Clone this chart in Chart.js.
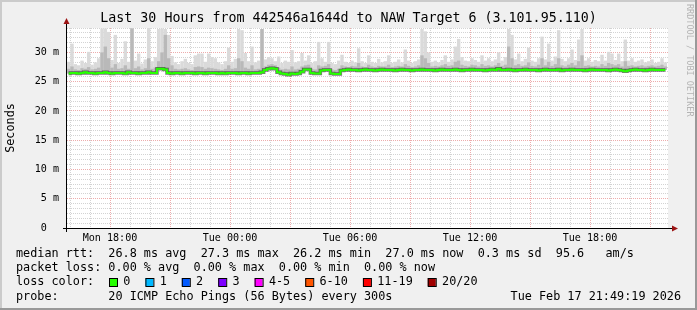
<!DOCTYPE html>
<html>
<head>
<meta charset="utf-8">
<script src="https://cdn.jsdelivr.net/npm/chart.js@4.4.1/dist/chart.umd.min.js"></script>
<style>
  html, body { margin: 0; padding: 0; background: #f0f0f0; }
</style>
</head>
<body>
<canvas id="smokeChart" width="697" height="310"></canvas>
<script>
/* ================= DATA ================= */
// time axis in hours counted from Mon 00:00
const T_START = 15.85;
const T_END = 45.9;
const STEP = 1 / 6;   // one sample = 10 min

// median rtt (ms)
const median = [
  26.4, 26.5, 26.5, 26.4, 26.5, 26.6, 26.5, 26.5, 26.4, 26.5,
  26.5, 26.6, 26.5, 26.4, 26.5, 26.5, 26.5, 26.4, 26.6, 26.5,
  26.5, 26.4, 26.5, 26.5, 26.6, 26.5, 26.5, 27.2, 27.2, 27.1,
  26.5, 26.4, 26.5, 26.5, 26.4, 26.5, 26.5, 26.5, 26.4, 26.5,
  26.5, 26.4, 26.5, 26.5, 26.5, 26.4, 26.5, 26.4, 26.5, 26.5,
  26.5, 26.4, 26.5, 26.5, 26.4, 26.5, 26.5, 26.5, 26.6, 27.0,
  27.2, 27.3, 27.2, 26.6, 26.4, 26.3, 26.2, 26.4, 26.3, 26.4,
  26.7, 27.1, 27.1, 26.5, 26.4, 26.4, 26.9, 27.0, 27.0, 26.4,
  26.3, 26.3, 26.9, 27.0, 27.1, 27.0, 27.0, 26.9, 27.0, 27.1,
  27.0, 27.0, 26.9, 27.0, 27.1, 27.0, 27.0, 27.0, 26.9, 27.0,
  27.1, 27.0, 27.0, 26.9, 27.0, 27.0, 27.1, 27.0, 27.0, 27.0,
  26.9, 27.0, 27.1, 27.0, 27.0, 27.0, 27.1, 27.0, 26.9, 27.0,
  27.0, 27.1, 27.0, 27.0, 27.0, 26.9, 27.0, 27.1, 27.0, 27.2,
  27.0, 27.0, 27.1, 27.0, 26.9, 27.0, 27.0, 27.1, 27.0, 27.0,
  27.0, 26.9, 27.0, 27.1, 27.0, 27.0, 27.0, 27.1, 26.9, 27.0,
  27.0, 27.1, 27.0, 27.0, 27.0, 26.9, 27.0, 27.1, 27.0, 27.0,
  27.0, 27.0, 26.9, 27.0, 27.1, 27.0, 26.9, 26.8, 26.9, 27.0,
  27.1, 27.0, 27.0, 26.9, 27.0, 27.1, 27.0, 27.0, 27.0, 27.0
];

// denser smoke (upper quartile of the pings, ms)
const pingUpper = [
  27.2, 27.6, 27.1, 27.0, 27.3, 27.2, 27.5, 27.1, 27.2, 27.4,
  30.0, 31.0, 29.0, 27.4, 28.0, 27.2, 27.3, 27.8, 27.2, 34.1,
  27.3, 27.6, 27.1, 27.3, 29.0, 27.2, 27.4, 28.5, 30.0, 33.0,
  29.0, 27.8, 27.2, 27.1, 27.2, 27.3, 27.1, 27.0, 27.5, 27.6,
  27.5, 27.2, 27.4, 27.3, 27.2, 27.1, 27.0, 27.2, 27.8, 27.2,
  27.3, 29.0, 28.5, 27.4, 27.2, 27.8, 27.1, 27.2, 34.0, 27.6,
  27.9, 28.0, 27.8, 27.4, 27.1, 27.2, 27.1, 27.6, 27.1, 27.2,
  27.6, 27.8, 27.9, 27.2, 27.1, 27.8, 27.6, 27.7, 28.0, 27.1,
  27.0, 27.2, 27.8, 27.6, 27.5, 27.7, 27.6, 28.2, 27.6, 27.5,
  27.9, 27.6, 27.5, 27.7, 27.6, 27.6, 27.9, 27.5, 27.6, 27.7,
  27.6, 28.0, 27.7, 27.5, 27.6, 27.8, 29.5, 29.0, 28.2, 27.6,
  27.7, 27.6, 27.8, 28.0, 27.7, 27.8, 28.4, 28.6, 27.9, 27.7,
  27.6, 27.9, 27.8, 27.6, 28.0, 27.7, 27.8, 27.6, 27.8, 28.2,
  27.7, 27.9, 31.0, 29.0, 27.8, 28.0, 27.7, 27.8, 28.3, 27.7,
  27.6, 27.9, 29.0, 27.8, 28.4, 27.7, 28.0, 29.0, 27.8, 27.6,
  27.9, 28.2, 27.8, 28.5, 29.5, 27.7, 27.8, 27.6, 27.7, 27.6,
  28.0, 27.7, 28.2, 28.0, 27.8, 28.0, 27.6, 28.5, 27.7, 27.8,
  27.6, 27.7, 27.8, 27.6, 27.7, 27.8, 27.6, 27.7, 27.9, 27.6
];

// slowest ping of each sample (ms)
const pingMax = [
  28.4, 31.5, 28.0, 27.8, 28.6, 28.2, 30.1, 27.9, 28.3, 29.0,
  34.1, 34.1, 33.5, 28.7, 33.0, 28.2, 28.9, 31.9, 28.4, 34.1,
  28.6, 29.8, 28.1, 28.8, 34.2, 28.5, 29.2, 34.0, 34.1, 34.0,
  33.0, 29.4, 28.3, 28.0, 28.5, 28.9, 28.2, 28.0, 29.5, 29.8,
  29.8, 28.4, 29.8, 29.2, 29.0, 28.3, 28.0, 28.5, 30.8, 28.4,
  28.9, 34.0, 33.8, 29.9, 28.5, 31.0, 28.3, 28.6, 34.0, 28.8,
  29.2, 29.0, 28.5, 29.3, 28.2, 28.6, 28.4, 30.4, 28.3, 28.5,
  29.9, 28.6, 29.5, 28.2, 28.5, 31.8, 29.0, 28.4, 31.8, 28.2,
  28.0, 28.6, 29.6, 28.4, 28.2, 28.6, 28.3, 30.7, 28.5, 28.2,
  29.5, 28.4, 28.2, 28.9, 28.3, 28.5, 29.5, 28.2, 28.4, 28.8,
  28.3, 30.5, 28.6, 28.2, 28.5, 28.8, 34.0, 33.6, 30.0, 28.4,
  28.6, 28.3, 28.7, 29.5, 28.4, 28.8, 31.0, 32.3, 29.2, 28.6,
  28.5, 29.0, 28.7, 28.4, 29.5, 28.6, 29.0, 28.5, 28.8, 30.0,
  28.6, 29.2, 34.0, 33.0, 28.8, 29.8, 28.5, 28.9, 30.8, 28.6,
  28.4, 29.0, 32.7, 28.8, 31.5, 28.6, 29.3, 33.8, 28.9, 28.5,
  29.0, 30.5, 28.7, 32.2, 34.0, 28.6, 29.0, 28.4, 28.7, 28.5,
  29.6, 28.6, 30.1, 29.8, 28.7, 29.8, 28.5, 32.2, 28.6, 29.0,
  28.4, 28.6, 28.8, 28.3, 28.5, 28.8, 28.2, 28.4, 29.0, 28.3
];

const Y_MAX = 34.17;
const yTickValues = [];
for (let k = 0; k <= 41; k++) yTickValues.push(k * 5 / 6);
const hourTicks = [];
for (let h = 16; h <= 45; h++) hourTicks.push(h);

const titleText = "Last 30 Hours from 442546a1644d to NAW Target 6 (3.101.95.110)";
const statLines = [
  "median rtt:  26.8 ms avg  27.3 ms max  26.2 ms min  27.0 ms now  0.3 ms sd  95.6   am/s",
  "packet loss: 0.00 % avg  0.00 % max  0.00 % min  0.00 % now"
];
const lossLabels = ["0", "1", "2", "3", "4-5", "6-10", "11-19", "20/20"];
const lossColors = ["#26ff00", "#00b8ff", "#0059ff", "#7e00ff", "#ff00ff", "#ff5500", "#ff0000", "#a10000"];
const probeText = "probe:       20 ICMP Echo Pings (56 Bytes) every 300s";
const stampText = "Tue Feb 17 21:49:19 2026";

/* ================= HELPERS ================= */
const MONO = '"DejaVu Sans Mono", monospace';
const GRID_GRAY = "rgba(140,140,140,0.38)";
const GRID_RED = "rgba(215,70,70,0.45)";

const times = median.map((_, i) => T_START + (i + 0.5) * STEP);

function points(values) {
  return values.map((v, i) => ({ x: times[i], y: v }));
}
function ranges(top) {
  return top.map((v, i) => ({ x: times[i], y: [median[i], v] }));
}
function isFive(v) {
  return Math.abs(v / 5 - Math.round(v / 5)) < 1e-6;
}
function hourLabel(v) {
  if (v % 6 !== 0) return "";
  const day = v < 24 ? "Mon" : "Tue";
  return day + " " + String(v % 24).padStart(2, "0") + ":00";
}

/* ================= FRAME PLUGIN ================= */
const rrdFrame = {
  id: "rrdFrame",
  beforeDraw(chart) {
    const { ctx, width, height, chartArea: a } = chart;
    ctx.save();
    ctx.fillStyle = "#f0f0f0";
    ctx.fillRect(0, 0, width, height);
    ctx.fillStyle = "#cbcbcb";
    ctx.fillRect(0, 0, width, 2);
    ctx.fillRect(0, 0, 2, height);
    ctx.fillStyle = "#999999";
    ctx.fillRect(0, height - 2, width, 2);
    ctx.fillRect(width - 2, 0, 2, height);
    ctx.fillStyle = "#ffffff";
    ctx.fillRect(a.left, a.top, a.right - a.left, a.bottom - a.top);
    ctx.restore();
  },
  afterDraw(chart) {
    const { ctx, width, chartArea: a } = chart;
    ctx.save();

    // title
    ctx.font = "13.3px " + MONO;
    ctx.fillStyle = "#000";
    ctx.textAlign = "center";
    ctx.textBaseline = "middle";
    ctx.fillText(titleText, width / 2, 19);

    // axes with arrows
    const ax = a.left - 0.5, ay = a.bottom + 0.5;
    ctx.strokeStyle = "#000";
    ctx.lineWidth = 1;
    ctx.beginPath();
    ctx.moveTo(a.left - 4, ay); ctx.lineTo(a.right + 5, ay);
    ctx.moveTo(ax, a.bottom + 4); ctx.lineTo(ax, a.top - 5);
    ctx.stroke();
    ctx.fillStyle = "#9c1414";
    ctx.beginPath();
    ctx.moveTo(a.right + 4, ay - 3); ctx.lineTo(a.right + 10, ay); ctx.lineTo(a.right + 4, ay + 3);
    ctx.closePath(); ctx.fill();
    ctx.beginPath();
    ctx.moveTo(ax - 3, a.top - 4); ctx.lineTo(ax, a.top - 10); ctx.lineTo(ax + 3, a.top - 4);
    ctx.closePath(); ctx.fill();

    // legend / statistics text
    ctx.font = "11.8px " + MONO;
    ctx.fillStyle = "#000";
    ctx.textAlign = "left";
    ctx.fillText(statLines[0], 16, 254);
    ctx.fillText(statLines[1], 16, 268.3);
    ctx.fillText("loss color:", 16, 282.3);
    let x = 109;
    lossLabels.forEach((lab, i) => {
      ctx.fillStyle = lossColors[i];
      ctx.fillRect(x, 278, 8, 8);
      ctx.strokeStyle = "#000";
      ctx.strokeRect(x + 0.5, 278.5, 8, 8);
      ctx.fillStyle = "#000";
      ctx.fillText(lab, x + 14.3, 282.3);
      x += 14.3 + ctx.measureText(lab).width + 15;
    });
    ctx.fillText(probeText, 16, 296.7);
    ctx.textAlign = "right";
    ctx.fillText(stampText, 681, 296.7);

    // watermark
    ctx.translate(689.5, 4);
    ctx.rotate(Math.PI / 2);
    ctx.font = "8.5px " + MONO;
    ctx.fillStyle = "#b4b4b4";
    ctx.textAlign = "left";
    ctx.fillText("RRDTOOL / TOBI OETIKER", 0, 0);
    ctx.restore();
  }
};

/* ================= CHART ================= */
new Chart(document.getElementById("smokeChart"), {
  type: "line",
  data: {
    datasets: [
      {
        label: "median",
        data: points(median),
        borderColor: lossColors[0],
        borderWidth: 2,
        pointRadius: 0,
        stepped: "middle",
        order: 0
      },
      {
        label: "median shadow",
        data: points(median),
        borderColor: "rgba(30,30,30,0.6)",
        borderWidth: 3.5,
        pointRadius: 0,
        stepped: "middle",
        order: 1
      },
      {
        type: "bar",
        label: "smoke upper",
        data: ranges(pingUpper),
        backgroundColor: "#b9b9b9",
        borderWidth: 0,
        grouped: false,
        barPercentage: 1.02,
        categoryPercentage: 1,
        order: 2
      },
      {
        type: "bar",
        label: "smoke max",
        data: ranges(pingMax),
        backgroundColor: "#dadada",
        borderWidth: 0,
        grouped: false,
        barPercentage: 1.02,
        categoryPercentage: 1,
        order: 3
      }
    ]
  },
  options: {
    responsive: false,
    animation: false,
    events: [],
    layout: { padding: { left: 0, right: 29, top: 28, bottom: 0 } },
    plugins: {
      legend: { display: false },
      tooltip: { enabled: false }
    },
    scales: {
      x: {
        type: "linear",
        min: T_START,
        max: T_END,
        offset: false,
        afterFit: s => { s.height = 82; },
        afterBuildTicks: s => { s.ticks = hourTicks.map(v => ({ value: v })); },
        grid: {
          offset: false,
          drawTicks: false,
          color: c => (c.tick && c.tick.value % 3 === 0 ? GRID_RED : GRID_GRAY)
        },
        border: { display: false, dash: [1, 1] },
        ticks: {
          autoSkip: false,
          maxRotation: 0,
          padding: 4,
          color: "#000",
          font: { family: MONO, size: 10.1 },
          callback: v => hourLabel(v)
        }
      },
      y: {
        type: "linear",
        min: 0,
        max: Y_MAX,
        afterFit: s => { s.width = 67; },
        afterBuildTicks: s => { s.ticks = yTickValues.map(v => ({ value: v })); },
        grid: {
          drawTicks: false,
          color: c => (c.tick && isFive(c.tick.value) ? GRID_RED : GRID_GRAY)
        },
        border: { display: false, dash: [1, 1] },
        title: {
          display: true,
          text: "Seconds",
          color: "#000",
          font: { family: MONO, size: 11.8 },
          padding: { top: 3.5, bottom: 0 }
        },
        ticks: {
          autoSkip: false,
          padding: 8,
          color: "#000",
          font: { family: MONO, size: 10.1 },
          callback: v => {
            if (!isFive(v)) return "";
            const n = Math.round(v);
            return n === 0 ? "0  " : n + " m";
          }
        }
      }
    }
  },
  plugins: [rrdFrame]
});
</script>
</body>
</html>
